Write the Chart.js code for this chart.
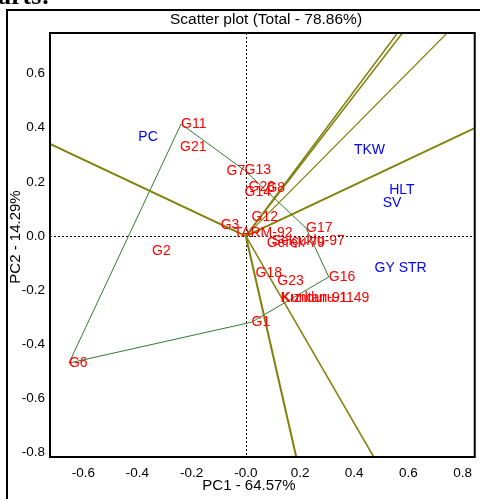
<!DOCTYPE html>
<html>
<head>
<meta charset="utf-8">
<script src="https://cdn.jsdelivr.net/npm/chart.js@4.4.1/dist/chart.umd.min.js"></script>
<style>
  html, body { margin: 0; padding: 0; background: #fff; overflow: hidden; }
  #wrap { position: relative; width: 480px; height: 499px; }
  #cut { position: absolute; left: -2px; top: -19px; font: bold 26px "Liberation Serif", serif; color: #000; }
  canvas { position: absolute; left: 0; top: 0; }
</style>
</head>
<body>
<div id="wrap">
  <canvas id="c" width="480" height="499"></canvas>
  <div id="cut">arts:</div>
</div>
<script>
// genotype scores (PC1, PC2)
var genoNames = ['G1', 'G2', 'G3', 'G6', 'G7', 'G8', 'G11', 'G12', 'G13', 'G14', 'G28', 'G16', 'G17', 'G18', 'G21', 'G23',
  'TARM-92', 'Gerek-79', 'Selçuklu-97', 'Kızıltan-91', 'Kunduru-1149'];
var genoX = [0.021, -0.346, -0.093, -0.653, -0.071, 0.076, -0.239, 0.021, -0.005, -0.005, 0.010, 0.306, 0.222, 0.036, -0.243, 0.116,
  -0.045, 0.077, 0.095, 0.128, 0.132];
var genoY = [-0.318, -0.055, 0.041, -0.469, 0.240, 0.177, 0.414, 0.070, 0.243, 0.163, 0.181, -0.151, 0.030, -0.137, 0.329, -0.166,
  0.011, -0.026, -0.018, -0.229, -0.229];

// environments / traits
var envNames = ['PC', 'TKW', 'HLT', 'SV', 'GY STR'];
var envX = [-0.397, 0.399, 0.529, 0.505, 0.475];
var envY = [0.366, 0.318, 0.170, 0.122, -0.118];

// convex hull of the genotypes
var hullOrder = ['G11', 'G13', 'G17', 'G16', 'G1', 'G6', 'G11'];

// sector rays from the origin, end points at the plot border
var rayX = [-0.723, 0.560, 0.578, 0.743, 0.845, 0.186, 0.472];
var rayY = [0.340, 0.750, 0.750, 0.750, 0.399, -0.816, -0.816];
var rayWidth = [2, 1.5, 1.5, 1.2, 2, 2, 1.5];

var xTicks = [-0.6, -0.4, -0.2, 0, 0.2, 0.4, 0.6, 0.8];
var xTickLabels = ['-0.6', '-0.4', '-0.2', '-0.0', '0.2', '0.4', '0.6', '0.8'];
var yTicks = [0.6, 0.4, 0.2, 0, -0.2, -0.4, -0.6, -0.8];
var yTickLabels = ['0.6', '0.4', '0.2', '0.0', '-0.2', '-0.4', '-0.6', '-0.8'];

var FONT = '"Liberation Sans", Arial, sans-serif';

var datasets = [];
rayX.forEach(function (x, i) {
  datasets.push({
    data: [{ x: 0, y: 0 }, { x: x, y: rayY[i] }],
    showLine: true, borderColor: '#80800a', borderWidth: rayWidth[i], pointRadius: 0
  });
});
datasets.push({
  data: hullOrder.map(function (n) { var k = genoNames.indexOf(n); return { x: genoX[k], y: genoY[k] }; }),
  showLine: true, borderColor: '#2f7d2f', borderWidth: 1, pointRadius: 0
});
datasets.push({
  label: 'geno',
  data: genoX.map(function (x, i) { return { x: x, y: genoY[i] }; }),
  pointRadius: 0
});
datasets.push({
  label: 'env',
  data: envX.map(function (x, i) { return { x: x, y: envY[i] }; }),
  pointRadius: 0
});

var decor = {
  id: 'decor',
  beforeDatasetsDraw: function (chart) {
    var ctx = chart.ctx, a = chart.chartArea;
    var xs = chart.scales.x, ys = chart.scales.y;
    ctx.save();
    ctx.strokeStyle = '#000';
    ctx.lineWidth = 1;
    ctx.setLineDash([2, 2]);
    var x0 = Math.round(xs.getPixelForValue(0)) + 0.5;
    var y0 = Math.round(ys.getPixelForValue(0)) + 0.5;
    ctx.beginPath();
    ctx.moveTo(x0, a.top); ctx.lineTo(x0, a.bottom);
    ctx.moveTo(a.left, y0); ctx.lineTo(a.right, y0);
    ctx.stroke();
    ctx.restore();
  },
  afterDatasetsDraw: function (chart) {
    var ctx = chart.ctx, a = chart.chartArea;
    var xs = chart.scales.x, ys = chart.scales.y;
    ctx.save();
    ctx.font = '14px ' + FONT;
    ctx.textAlign = 'left';
    ctx.textBaseline = 'middle';
    ctx.fillStyle = '#ff0000';
    genoNames.forEach(function (n, i) {
      ctx.fillText(n, xs.getPixelForValue(genoX[i]), ys.getPixelForValue(genoY[i]));
    });
    ctx.fillStyle = '#0000ff';
    envNames.forEach(function (n, i) {
      ctx.fillText(n, xs.getPixelForValue(envX[i]), ys.getPixelForValue(envY[i]));
    });

    // frames
    ctx.strokeStyle = '#000';
    ctx.lineWidth = 2;
    ctx.strokeRect(a.left, a.top, a.right - a.left, a.bottom - a.top);
    ctx.strokeRect(7, 10, 490, 500);

    // titles
    ctx.fillStyle = '#000';
    ctx.font = '15.5px ' + FONT;
    ctx.textAlign = 'center';
    ctx.fillText('Scatter plot (Total - 78.86%)', 266, 20);
    ctx.font = '15px ' + FONT;
    ctx.fillText('PC1 - 64.57%', 249, 486);
    ctx.translate(16, 237);
    ctx.rotate(-Math.PI / 2);
    ctx.fillText('PC2 - 14.29%', 0, 0);
    ctx.restore();
  }
};

new Chart(document.getElementById('c'), {
  type: 'scatter',
  data: { datasets: datasets },
  options: {
    responsive: false,
    animation: false,
    layout: { padding: { top: 33, right: 2, left: 0, bottom: 0 } },
    plugins: { legend: { display: false }, tooltip: { enabled: false }, title: { display: false } },
    scales: {
      x: {
        type: 'linear', min: -0.723, max: 0.845,
        grid: { display: false, drawTicks: false }, border: { display: false },
        afterFit: function (s) { s.height = 42; },
        afterBuildTicks: function (s) { s.ticks = xTicks.map(function (v) { return { value: v }; }); },
        ticks: {
          padding: 8, color: '#000', font: { family: FONT, size: 13.5 }, autoSkip: false, maxRotation: 0,
          callback: function (v) { return xTickLabels[xTicks.indexOf(v)]; }
        }
      },
      y: {
        type: 'linear', min: -0.816, max: 0.750,
        grid: { display: false, drawTicks: false }, border: { display: false },
        afterFit: function (s) { s.width = 50; },
        afterBuildTicks: function (s) { s.ticks = yTicks.map(function (v) { return { value: v }; }); },
        ticks: {
          padding: 5, color: '#000', font: { family: FONT, size: 13.5 }, autoSkip: false,
          callback: function (v) { return yTickLabels[yTicks.indexOf(v)]; }
        }
      }
    }
  },
  plugins: [decor]
});
</script>
</body>
</html>
